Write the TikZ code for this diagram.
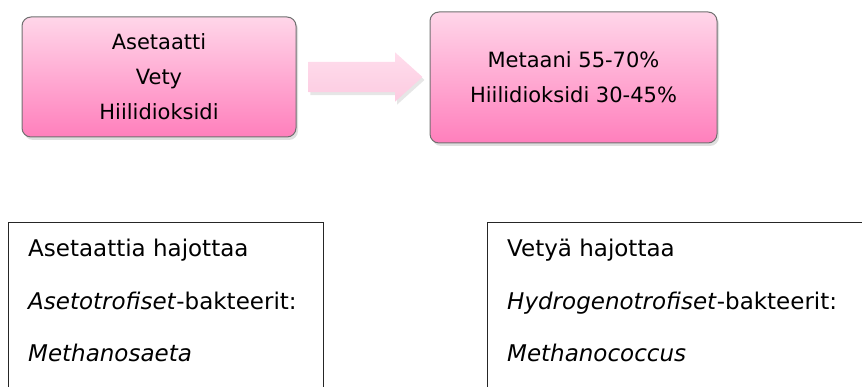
\documentclass[tikz,border=0pt]{standalone}
\usepackage{fontspec}
\setmainfont{DejaVu Sans}
\usetikzlibrary{shapes.arrows, shadows, positioning}
\definecolor{pinktop}{HTML}{FFD6E9}
\definecolor{pinkbot}{HTML}{FF7FBC}
\definecolor{arrtop}{HTML}{FFDDEC}
\definecolor{arrbot}{HTML}{FCCBE1}
\definecolor{edgegray}{HTML}{707070}

\begin{document}
\begin{tikzpicture}[x=1pt,y=-1pt,
  gasbox/.style={rectangle,draw=edgegray,line width=1pt,rounded corners=9pt,top color=pinktop,bottom color=pinkbot,
    drop shadow={shadow xshift=2pt,shadow yshift=-3pt,opacity=0.25},align=center,font=\fontsize{21}{35}\selectfont},
  flowarr/.style={single arrow,draw=none,top color=arrtop,bottom color=arrbot,shape border rotate=0,
    single arrow head extend=9.5pt,single arrow tip angle=84,inner xsep=0pt,inner ysep=15pt,
    drop shadow={shadow xshift=2pt,shadow yshift=-3pt,opacity=0.2}},
  infobox/.style={rectangle,draw=black!85,line width=0.9pt,anchor=north west},
  infotxt/.style={anchor=base west,inner sep=0pt,font=\fontsize{23}{28}\selectfont}
]
  \useasboundingbox (0,0) rectangle (862,387);
  \clip (0,0) rectangle (862,387);

  \node[gasbox,minimum width=274pt,minimum height=120pt](sub) at (159,77) {Asetaatti\\Vety\\Hiilidioksidi};
  \node[gasbox,minimum width=287pt,minimum height=131pt](prod) at (573.5,77.5) {Metaani 55-70\%\\Hiilidioksidi 30-45\%};
  \node[flowarr,minimum height=114pt,minimum width=49pt](conv) at (357,77) {};

  \node[infobox,minimum width=315pt,minimum height=200pt](aceto) at (8,222) {};
  \node[infotxt](aceto1) at (28,257) {Asetaattia hajottaa};
  \node[infotxt](aceto2) at (28,309) {\textit{Asetotrofiset}-bakteerit:};
  \node[infotxt](aceto3) at (28,361) {\textit{Methanosaeta}};

  \node[infobox,minimum width=400pt,minimum height=200pt](hydro) at (487,222) {};
  \node[infotxt](hydro1) at (507,257) {Vetyä hajottaa};
  \node[infotxt](hydro2) at (507,309) {\textit{Hydrogenotrofiset}-bakteerit:};
  \node[infotxt](hydro3) at (507,361) {\textit{Methanococcus}};
\end{tikzpicture}
\end{document}
